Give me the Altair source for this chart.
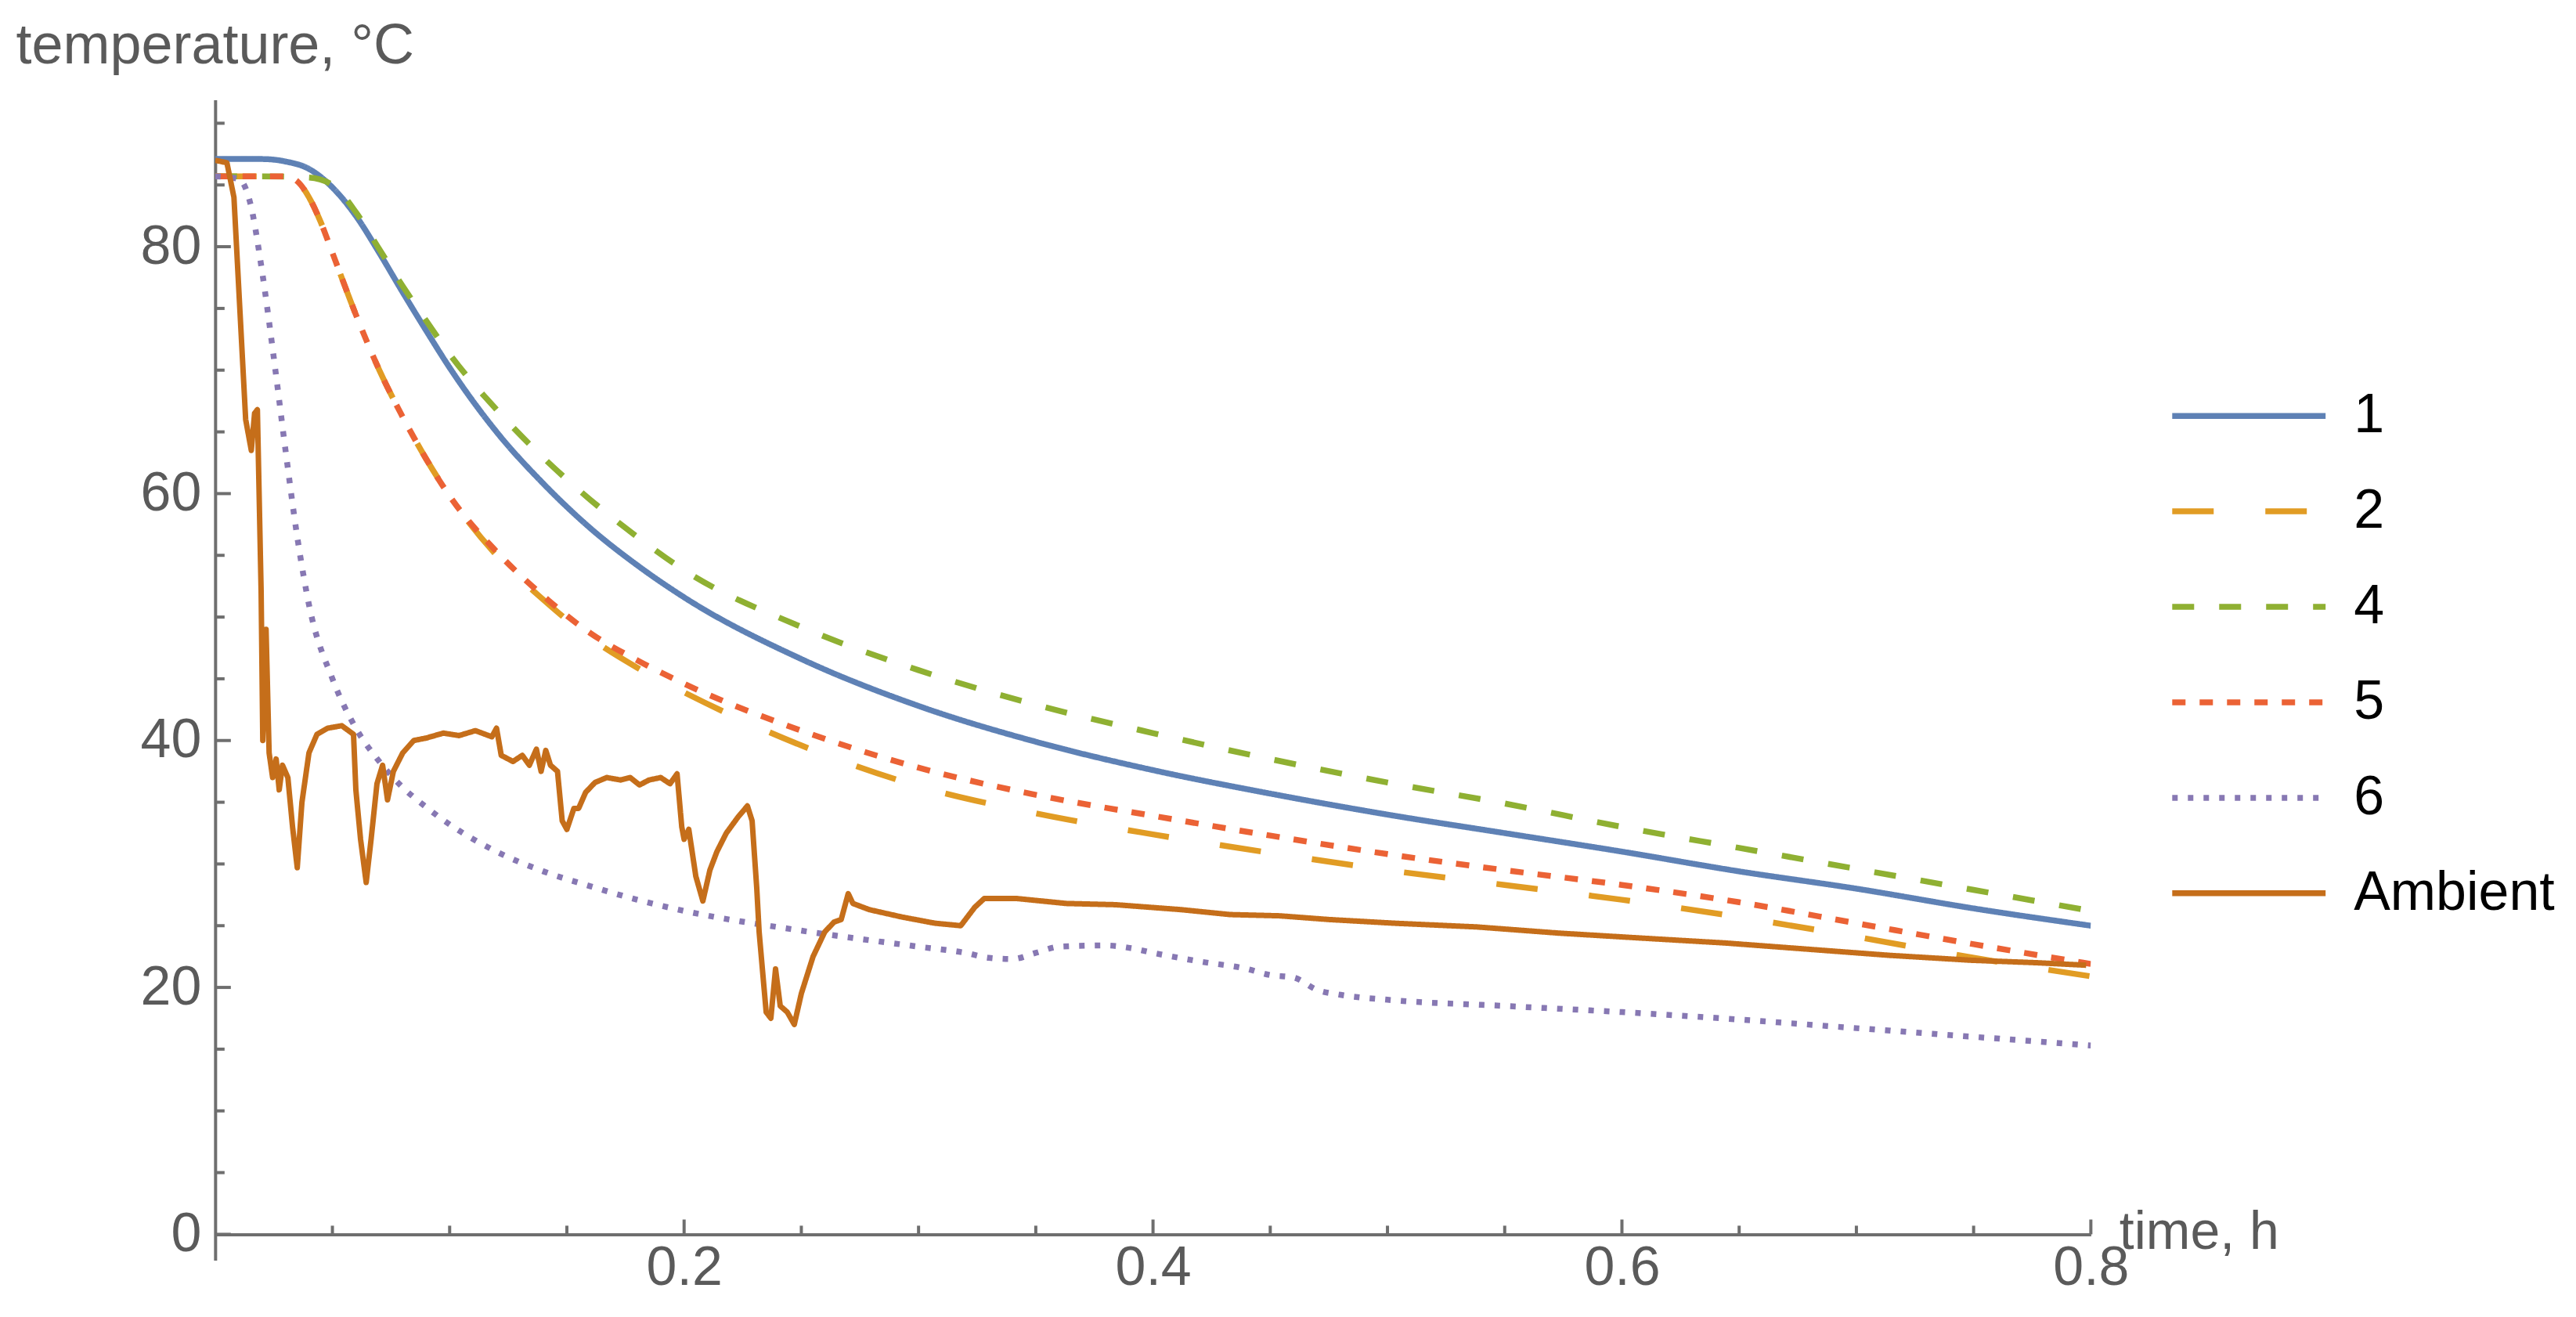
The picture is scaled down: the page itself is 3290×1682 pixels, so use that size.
import altair as alt
import pandas as pd

# ---------------- data ----------------
series_names = ["1", "2", "4", "5", "6", "Ambient"]
series_colors = ["#5E81B5", "#E19C24", "#8FB032", "#EB6235", "#8778B3", "#C56E1A"]
series_dashes = [[1, 0], [53, 66], [28, 32], [17, 18], [7, 13], [1, 0]]

t_1 = [0, 0.02, 0.03, 0.04, 0.05, 0.06, 0.07, 0.08, 0.09, 0.10, 0.12, 0.14, 0.16, 0.18,
       0.20, 0.25, 0.30, 0.35, 0.40, 0.45, 0.50, 0.55, 0.60, 0.65, 0.70, 0.75, 0.80]
temp_1 = [87.1, 87.1, 86.9, 86.3, 84.8, 82.5, 79.5, 76.3, 73.2, 70.2, 65.0, 60.8, 57.2, 54.2,
          51.6, 46.6, 42.8, 39.9, 37.6, 35.7, 34.0, 32.5, 31.0, 29.4, 28.0, 26.4, 25.0]

t_2 = [0, 0.02, 0.03, 0.035, 0.04, 0.045, 0.05, 0.06, 0.07, 0.08, 0.09, 0.10, 0.12, 0.14,
       0.16, 0.18, 0.20, 0.25, 0.30, 0.35, 0.40, 0.45, 0.50, 0.55, 0.60, 0.65, 0.70, 0.75, 0.80]
temp_2 = [85.7, 85.7, 85.7, 85.3, 84.0, 82.0, 79.5, 74.5, 70.0, 66.2, 62.8, 59.8, 55.0, 51.4,
          48.3, 45.9, 43.9, 39.6, 36.3, 34.1, 32.4, 30.9, 29.5, 28.3, 27.1, 25.7, 24.1, 22.4, 20.9]

t_4 = [0, 0.02, 0.04, 0.05, 0.06, 0.07, 0.08, 0.09, 0.10, 0.12, 0.14, 0.16, 0.18, 0.20,
       0.25, 0.30, 0.35, 0.40, 0.45, 0.50, 0.55, 0.60, 0.65, 0.70, 0.75, 0.80]
temp_4 = [85.7, 85.7, 85.6, 85.0, 82.8, 79.8, 76.8, 74.0, 71.3, 66.8, 62.9, 59.5, 56.5, 53.8,
          49.2, 45.7, 42.9, 40.6, 38.5, 36.6, 34.9, 33.0, 31.3, 29.6, 27.9, 26.2]

t_5 = [0, 0.02, 0.03, 0.035, 0.04, 0.045, 0.05, 0.06, 0.07, 0.08, 0.09, 0.10, 0.12, 0.14,
       0.16, 0.18, 0.20, 0.25, 0.30, 0.35, 0.40, 0.45, 0.50, 0.55, 0.60, 0.65, 0.70, 0.75, 0.80]
temp_5 = [85.7, 85.7, 85.7, 85.3, 84.0, 82.0, 79.5, 74.5, 70.0, 66.2, 62.8, 59.8, 55.3, 51.7,
          48.7, 46.5, 44.6, 40.8, 37.8, 35.6, 33.9, 32.3, 30.8, 29.5, 28.3, 26.9, 25.2, 23.5, 21.9]

t_6 = [0, 0.01, 0.015, 0.02, 0.025, 0.03, 0.035, 0.04, 0.05, 0.06, 0.07, 0.08, 0.09, 0.10,
       0.12, 0.14, 0.16, 0.18, 0.20, 0.25, 0.30, 0.32, 0.33, 0.34, 0.35, 0.36, 0.38, 0.39,
       0.40, 0.42, 0.44, 0.45, 0.46, 0.47, 0.48, 0.50, 0.55, 0.60, 0.65, 0.70, 0.75, 0.80]
temp_6 = [85.7, 85.5, 83.5, 78.0, 71.0, 63.5, 56.5, 51.0, 45.0, 41.0, 38.3, 36.2, 34.6, 33.2,
          31.0, 29.4, 28.2, 27.1, 26.2, 24.6, 23.3, 22.8, 22.4, 22.3, 22.8, 23.3, 23.4, 23.2,
          22.8, 22.1, 21.5, 21.0, 20.8, 19.8, 19.4, 19.0, 18.5, 18.0, 17.4, 16.7, 16.0, 15.3]

t_amb = [0, 0.005, 0.008, 0.0105, 0.013, 0.0154, 0.0168, 0.018, 0.0196, 0.0203, 0.0217, 0.023,
         0.0245, 0.026, 0.0273, 0.0287, 0.031, 0.033, 0.035, 0.037, 0.040, 0.0434, 0.048, 0.054,
         0.059, 0.060, 0.062, 0.0644, 0.0665, 0.069, 0.0714, 0.0735, 0.076, 0.080, 0.0847, 0.090,
         0.0973, 0.104, 0.111, 0.118, 0.120, 0.122, 0.127, 0.131, 0.134, 0.137, 0.139, 0.141,
         0.143, 0.146, 0.148, 0.150, 0.153, 0.155, 0.158, 0.162, 0.167, 0.173, 0.177, 0.181,
         0.185, 0.190, 0.194, 0.197, 0.199, 0.200, 0.202, 0.205, 0.208, 0.211, 0.214, 0.218,
         0.223, 0.227, 0.229, 0.231, 0.232, 0.235, 0.237, 0.239, 0.241, 0.244, 0.247, 0.250,
         0.255, 0.260, 0.264, 0.267, 0.270, 0.272, 0.279, 0.293, 0.307, 0.318, 0.324, 0.328,
         0.342, 0.363, 0.384, 0.398, 0.412, 0.433, 0.454, 0.475, 0.503, 0.538, 0.573, 0.608,
         0.644, 0.679, 0.714, 0.749, 0.777, 0.798]
temp_amb = [87.0, 86.8, 84.0, 75.0, 66.0, 63.5, 66.5, 66.8, 52.0, 40.0, 49.0, 39.0,
            37.0, 38.5, 36.0, 38.0, 37.0, 33.0, 29.7, 35.0, 39.0, 40.5, 41.0, 41.2,
            40.5, 36.0, 32.0, 28.5, 32.0, 36.5, 38.0, 35.2, 37.5, 39.0, 40.0, 40.2,
            40.6, 40.4, 40.8, 40.3, 41.0, 38.8, 38.3, 38.8, 38.0, 39.3, 37.5, 39.2,
            38.0, 37.5, 33.5, 32.8, 34.5, 34.5, 35.8, 36.6, 37.0, 36.8, 37.0, 36.4,
            36.8, 37.0, 36.5, 37.3, 33.0, 32.0, 32.8, 29.0, 27.0, 29.5, 31.0, 32.5,
            33.8, 34.7, 33.5, 28.0, 24.5, 18.0, 17.5, 21.5, 18.5, 18.0, 17.0, 19.5,
            22.5, 24.5, 25.3, 25.5, 27.6, 26.8, 26.3, 25.7, 25.2, 25.0, 26.5, 27.2,
            27.2, 26.8, 26.7, 26.5, 26.3, 25.9, 25.8, 25.5, 25.2, 24.9, 24.4, 24.0,
            23.6, 23.1, 22.6, 22.2, 22.0, 21.8]

x_major_ticks = [0.2, 0.4, 0.6, 0.8]
x_minor_ticks = [0.05, 0.1, 0.15, 0.25, 0.3, 0.35, 0.45, 0.5, 0.55, 0.65, 0.7, 0.75]
y_major_ticks = [0, 20, 40, 60, 80]
y_minor_ticks = [5, 10, 15, 25, 30, 35, 45, 50, 55, 65, 70, 75, 85, 90]

# ---------------- build table ----------------
rows = []
for name, ts, vs in [("1", t_1, temp_1), ("2", t_2, temp_2), ("4", t_4, temp_4),
                     ("5", t_5, temp_5), ("6", t_6, temp_6), ("Ambient", t_amb, temp_amb)]:
    for i, (t, v) in enumerate(zip(ts, vs)):
        rows.append({"time": t, "temp": v, "series": name, "idx": i})
df = pd.DataFrame(rows)

xt_df = pd.DataFrame({"v": x_major_ticks + x_minor_ticks,
                      "major": [1] * len(x_major_ticks) + [0] * len(x_minor_ticks)})
yt_df = pd.DataFrame({"v": y_major_ticks + y_minor_ticks,
                      "major": [1] * len(y_major_ticks) + [0] * len(y_minor_ticks)})

W, H = 2397, 1483
FONT = "Liberation Sans"
AX = "#6e6e6e"
TXT = "#5a5a5a"
LW = 7.5

x_scale = alt.Scale(domain=[0, 0.8], nice=False, zero=False)
y_scale = alt.Scale(domain=[-2.1, 91.9], nice=False, zero=False)

x_enc = alt.X("time:Q", scale=x_scale,
              axis=alt.Axis(values=x_major_ticks, format=".1f", ticks=False, tickSize=0,
                            offset=-33, grid=False, domainColor=AX, domainWidth=4,
                            labelFont=FONT, labelFontSize=70, labelColor=TXT,
                            labelPadding=9, labelFlush=False,
                            title="time, h", titleFont=FONT, titleFontSize=68,
                            titleFontWeight="normal", titleColor=TXT,
                            titleX=W + 36, titleY=-2, titleAlign="left",
                            titleBaseline="middle", titleAnchor="start"))
y_enc = alt.Y("temp:Q", scale=y_scale,
              axis=alt.Axis(values=y_major_ticks, format="d", ticks=False, tickSize=0,
                            grid=False, domainColor=AX, domainWidth=4,
                            labelFont=FONT, labelFontSize=70, labelColor=TXT,
                            labelPadding=18,
                            title="temperature, °C", titleFont=FONT, titleFontSize=72,
                            titleFontWeight="normal", titleColor=TXT, titleAngle=0,
                            titleX=-255, titleY=-47, titleAlign="left",
                            titleBaseline="alphabetic", titleAnchor="start"))


def make_legend():
    return alt.Legend(title=None, orient="none", legendX=2497, legendY=368,
                      symbolType="stroke", symbolSize=196 * 196, symbolStrokeWidth=LW,
                      labelFont=FONT, labelFontSize=70, labelColor="#000000",
                      labelOffset=32, labelLimit=600, clipHeight=72, rowPadding=50,
                      padding=0)


color_enc = alt.Color("series:N", scale=alt.Scale(domain=series_names, range=series_colors),
                      legend=make_legend())
dash_enc = alt.StrokeDash("series:N", scale=alt.Scale(domain=series_names, range=series_dashes),
                          legend=make_legend())

smooth = alt.Chart(df).transform_filter("datum.series != 'Ambient'").mark_line(
    interpolate="monotone", strokeWidth=LW, clip=True
).encode(x=x_enc, y=y_enc, color=color_enc, strokeDash=dash_enc, order="idx:Q")

ambient = alt.Chart(df).transform_filter("datum.series == 'Ambient'").mark_line(
    interpolate="linear", strokeWidth=LW - 0.5, strokeJoin="round", clip=True
).encode(x=x_enc, y=y_enc, color=color_enc, strokeDash=dash_enc, order="idx:Q")

yticks = alt.Chart(yt_df).transform_filter("datum.major == 1").mark_rule(
    color=AX, strokeWidth=4
).encode(y=alt.Y("v:Q", scale=y_scale), x=alt.value(0), x2=alt.value(20))

yticks_minor = alt.Chart(yt_df).transform_filter("datum.major == 0").mark_rule(
    color=AX, strokeWidth=4
).encode(y=alt.Y("v:Q", scale=y_scale), x=alt.value(0), x2=alt.value(12))

xticks = alt.Chart(xt_df).transform_filter("datum.major == 1").mark_rule(
    color=AX, strokeWidth=4
).encode(x=alt.X("v:Q", scale=x_scale), y=alt.datum(0), y2=alt.datum(1.2))

xticks_minor = alt.Chart(xt_df).transform_filter("datum.major == 0").mark_rule(
    color=AX, strokeWidth=4
).encode(x=alt.X("v:Q", scale=x_scale), y=alt.datum(0), y2=alt.datum(0.7))

chart = alt.layer(smooth, ambient, yticks, yticks_minor, xticks, xticks_minor).properties(
    width=W, height=H,
    autosize=alt.AutoSizeParams(type="none"),
    padding={"left": 267, "top": 119, "right": 612, "bottom": 70},
).configure(background="white").configure_view(stroke=None)

chart.save("out.html", embed_options={"renderer": "svg", "actions": False})
